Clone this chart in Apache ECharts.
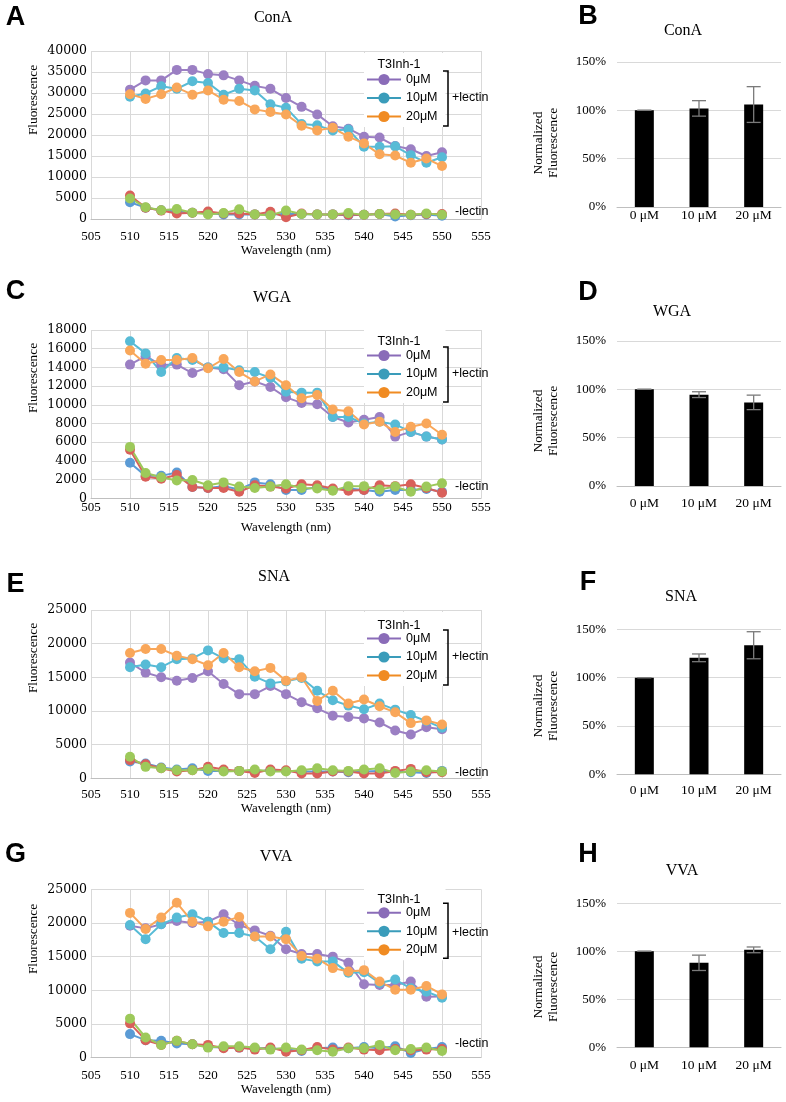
<!DOCTYPE html>
<html>
<head>
<meta charset="utf-8">
<script src="https://cdn.jsdelivr.net/npm/echarts/dist/echarts.min.js"></script>
<style>
html,body{margin:0;padding:0;background:#fff;}
#chart{width:786px;height:1102px;}
</style>
</head>
<body>
<div id="chart"></div>
<script>
// ---------------- DATA ----------------
const wavelengths = [510,512,514,516,518,520,522,524,526,528,530,532,534,536,538,540,542,544,546,548,550];
const xTicks = [505,510,515,520,525,530,535,540,545,550,555];
const doseNames = ['0μM','10μM','20μM'];
const barCategories = ['0 μM','10 μM','20 μM'];

// ConA
const conA_0  = [30800,33000,33000,35500,35500,34500,34200,33000,31700,31000,28800,26700,24900,22100,21500,19600,19400,17400,16600,15000,15900];
const conA_10 = [29100,29900,31600,31000,32800,32400,29600,31000,30600,27300,26500,22600,22300,21100,21300,17200,17200,17300,15200,13400,14700];
const conA_20 = [29700,28600,29700,31300,29600,30600,28400,28100,26100,25500,24900,22200,21100,21700,19600,18000,15400,15100,13400,14400,12600];
const conA_negBlue  = [4000,2700,2100,1800,1500,1400,1100,1100,1100,1100,1200,1200,1100,1100,900,1000,1200,600,900,1100,800];
const conA_negRed   = [5600,2700,2000,1300,1500,1800,1300,1300,1100,1700,400,1300,1100,1100,1000,1000,1200,1300,1000,1200,1200];
const conA_negGreen = [4900,2800,2100,2400,1500,1100,1400,2300,1100,900,2000,1200,1100,1100,1400,1000,1200,1100,1000,1300,1000];

// WGA
const wga_0  = [14300,15200,14250,14300,13400,14000,13800,12100,12500,11900,10800,10200,10050,8700,8100,8400,8700,6600,7100,6600,6300];
const wga_10 = [16800,15500,13500,15000,14800,14000,14000,13700,13500,12900,11400,11300,11300,8700,8700,8000,8200,7900,7100,6600,6300];
const wga_20 = [15800,14400,14800,14800,15000,13900,14900,13500,12500,13250,12100,10700,11050,9500,9300,7900,8200,7100,7650,8000,6800];
const wga_negBlue  = [3800,2400,2400,2750,1200,1100,1300,950,1700,1500,900,900,1200,950,1050,900,700,900,900,1000,700];
const wga_negRed   = [5200,2300,2100,2500,1200,1100,1100,700,1400,1250,1050,1500,1400,1050,800,900,1400,1300,1500,1100,600];
const wga_negGreen = [5500,2700,2250,1900,1950,1400,1700,1250,1100,1250,1500,1100,1050,800,1300,1300,950,1250,700,1250,1600];

// SNA
const sna_0  = [17200,15700,15000,14500,14900,15900,14000,12500,12500,13700,12500,11300,10400,9300,9100,8900,8300,7100,6500,7600,7300];
const sna_10 = [16500,16900,16500,17700,17800,19000,17800,17700,15100,14100,14400,14900,13000,11600,10800,10250,11100,10200,9400,8500,7500];
const sna_20 = [18600,19200,19200,18200,17700,16800,18600,16500,15900,16400,14500,15000,11500,13000,11100,11700,10700,9800,8200,8600,8000];
const sna_negBlue  = [2500,2200,1600,1300,1500,1100,1100,1100,1000,1200,1100,1000,1000,1000,900,1000,1100,1000,900,800,1100];
const sna_negRed   = [2700,2100,1500,1000,1200,1700,1300,1100,800,1300,1200,700,700,1000,1000,700,700,1100,1400,900,900];
const sna_negGreen = [3200,1700,1500,1200,1200,1400,1000,1100,1300,1000,1000,1200,1500,1200,1100,1300,1500,800,1000,1200,1000];

// VVA
const vva_0  = [19600,19200,19800,20300,20000,20200,21300,19700,18900,18100,16100,15400,15400,15000,14100,10900,10800,10800,11300,9050,9100];
const vva_10 = [19700,17600,19800,20800,21300,20200,18500,18500,18000,16100,18700,14700,14300,14300,12600,12700,11100,11600,10300,9800,8900];
const vva_20 = [21500,19100,20800,23000,20200,19500,20200,20900,18000,18000,17600,15100,14700,13300,12800,13000,11300,10100,10100,10650,9400];
const vva_negBlue  = [3500,2600,2500,2100,2000,1600,1500,1500,1400,1400,1200,1000,1400,1500,1400,1600,1400,1700,700,1300,1600];
const vva_negRed   = [5100,2600,1900,2500,2000,1900,1400,1500,1200,1500,900,1100,1600,1200,1500,1200,1100,1300,1100,1200,1300];
const vva_negGreen = [5800,3000,1900,2500,2000,1500,1700,1700,1500,1200,1500,1200,1100,900,1400,1400,1900,1100,1300,1500,1000];

// Normalized bars (%) and error (±%)
const conA_norm = [100,102,106];    const conA_err = [0,8,18.5];
const wga_norm  = [100,94.5,86.5];  const wga_err  = [0,3,7.5];
const sna_norm  = [100,120.5,133.5];const sna_err  = [0,4,14];
const vva_norm  = [100,88,101.5];   const vva_err  = [0,8,3];

// ---------------- STYLE / LAYOUT ----------------
const COL = {purple:'#9b7fc3', cyan:'#57bbd6', orange:'#f9a75a', blue:'#5b9bd5', red:'#d9605a', green:'#9dc95a'};
const LEG = {purple:'#8a6cb8', cyan:'#3a9cba', orange:'#f08b22'};
const SERIF = '"Liberation Serif","Times New Roman",serif';
const SERIF_Y = '"DejaVu Serif",serif';
const SANS = '"Liberation Sans",Arial,sans-serif';

const linePanels = [
  {title:'ConA', letter:'A', pos:[51,168], ymax:40000, yint:5000, letterY:18, titleY:18, titleX:273, xMargin:11, xNameGap:22, yNameY:100, leg:[14,29,20,75,47,161],
   plus:[conA_0,conA_10,conA_20], minus:[conA_negBlue,conA_negRed,conA_negGreen]},
  {title:'WGA', letter:'C', pos:[330,168.3], ymax:18000, yint:2000, letterY:292, titleY:298, titleX:272, xMargin:3, xNameGap:23, yNameY:378, leg:[12,26,17,72,44,157],
   plus:[wga_0,wga_10,wga_20], minus:[wga_negBlue,wga_negRed,wga_negGreen]},
  {title:'SNA', letter:'E', pos:[610,168.3], ymax:25000, yint:5000, letterY:585, titleY:577, titleX:274, xMargin:10, xNameGap:23, yNameY:658, leg:[16,29,20,75,47,163],
   plus:[sna_0,sna_10,sna_20], minus:[sna_negBlue,sna_negRed,sna_negGreen]},
  {title:'VVA', letter:'G', pos:[889.3,168.4], ymax:25000, yint:5000, letterY:855, titleY:857, titleX:276, xMargin:11, xNameGap:25, yNameY:939, leg:[10,24,14,69,43,154],
   plus:[vva_0,vva_10,vva_20], minus:[vva_negBlue,vva_negRed,vva_negGreen]}
];
const barPanels = [
  {title:'ConA', letter:'B', pos:[62,145], vals:conA_norm, errs:conA_err, letterY:16.5, titleY:31, titleX:683, xMargin:1, yNameY:143},
  {title:'WGA', letter:'D', pos:[341,145], vals:wga_norm, errs:wga_err, letterY:293, titleY:312, titleX:672, xMargin:10, yNameY:421},
  {title:'SNA', letter:'F', pos:[629.3,145], vals:sna_norm, errs:sna_err, letterY:583, titleY:597, titleX:681, xMargin:9, yNameY:706},
  {title:'VVA', letter:'H', pos:[903.3,144], vals:vva_norm, errs:vva_err, letterY:855, titleY:871, titleX:682, xMargin:11, yNameY:987}
];

const LINE_LEFT = 91, LINE_W = 390;
const BAR_LEFT = 617, BAR_W = 164;

function txt(x, y, text, font, opts) {
  opts = opts || {};
  return Object.assign({
    type:'text', x:x, y:y, z:100,
    style:{text:text, font:font, fill:'#000',
      align:opts.align||'center', textAlign:opts.align||'center',
      verticalAlign:'middle', textVerticalAlign:'middle', lineHeight:opts.lineHeight}
  }, opts.rotation ? {rotation:opts.rotation} : {});
}

const grids=[], xAxes=[], yAxes=[], series=[], legends=[], graphics=[];

linePanels.forEach(p => {
  const gi = grids.length;
  const top = p.pos[0], h = p.pos[1];
  grids.push({left:LINE_LEFT, top:top, width:LINE_W, height:h, containLabel:false, outerBoundsMode:'none'});
  xAxes.push({gridIndex:gi, type:'value', min:xTicks[0], max:xTicks[xTicks.length-1], interval:5,
    axisLine:{show:true, lineStyle:{color:'#bfbfbf', width:1}}, axisTick:{show:false},
    splitLine:{show:true, lineStyle:{color:'#d9d9d9', width:1}},
    axisLabel:{color:'#000', fontFamily:SERIF, fontSize:13, margin:p.xMargin, formatter:v => String(v)},
    name:'Wavelength (nm)', nameLocation:'middle', nameGap:p.xNameGap,
    nameTextStyle:{color:'#000', fontFamily:SERIF, fontSize:13}});
  yAxes.push({gridIndex:gi, type:'value', min:0, max:p.ymax, interval:p.yint,
    axisLine:{show:false}, axisTick:{show:false},
    splitLine:{show:true, lineStyle:{color:'#d9d9d9', width:1}},
    axisLabel:{color:'#000', fontFamily:SERIF_Y, fontSize:12.5, margin:4, formatter:v => String(v)}});
  const mk = (arr) => wavelengths.map((w,k) => [w, arr[k]]);
  const negCols = [COL.blue, COL.red, COL.green];
  p.minus.forEach((arr, k) => {
    series.push({type:'line', name:p.title+' -lectin '+k, xAxisIndex:gi, yAxisIndex:gi, data:mk(arr),
      symbol:'circle', symbolSize:10, showSymbol:true, lineStyle:{color:negCols[k], width:2},
      itemStyle:{color:negCols[k]}, z:2, silent:true});
  });
  const posCols = [COL.purple, COL.cyan, COL.orange];
  p.plus.forEach((arr, k) => {
    series.push({type:'line', name:doseNames[k], xAxisIndex:gi, yAxisIndex:gi, data:mk(arr),
      symbol:'circle', symbolSize:10, showSymbol:true, lineStyle:{color:posCols[k], width:2},
      itemStyle:{color:posCols[k]}, z:3, silent:true});
  });
  const L = p.leg; // [headerDy, firstItemDy, bracketTopDy, bracketBotDy, plusDy, minusDy]
  const legCols = [LEG.purple, LEG.cyan, LEG.orange];
  legends.push({
    orient:'vertical', left:364, top:top + L[1] - 7 - 20,
    padding:[20,8,4,2], backgroundColor:'#ffffff',
    itemWidth:34, itemHeight:14, itemGap:5.5, selectedMode:false,
    textStyle:{color:'#000', fontFamily:SANS, fontSize:12.5},
    data:doseNames.map((n,k) => ({name:n,
      itemStyle:{color:legCols[k]}, lineStyle:{color:legCols[k], width:2}}))
  });
  graphics.push(txt(399, top + L[0], 'T3Inh-1', '12.5px '+SANS));
  const bx = 448, bt = top + L[2], bb = top + L[3];
  graphics.push({type:'polyline', z:100, shape:{points:[[443,bt],[bx,bt],[bx,bb],[443,bb]]},
    style:{stroke:'#000', lineWidth:1.5, fill:null}});
  graphics.push(txt(452, top + L[4], '+lectin', '12.5px '+SANS, {align:'left'}));
  graphics.push(txt(455, top + L[5], '-lectin', '12.5px '+SANS, {align:'left'}));
  graphics.push(txt(p.titleX, p.titleY, p.title, '16px '+SERIF));
  graphics.push(txt(15.5, p.letterY, p.letter, 'bold 27px '+SANS));
  graphics.push(txt(34, p.yNameY, 'Fluorescence', '13.3px '+SERIF, {rotation:Math.PI/2}));
});

barPanels.forEach(p => {
  const gi = grids.length;
  const top = p.pos[0], h = p.pos[1];
  grids.push({left:BAR_LEFT, top:top, width:BAR_W, height:h, containLabel:false, outerBoundsMode:'none'});
  xAxes.push({gridIndex:gi, type:'category', data:barCategories, boundaryGap:true,
    axisLine:{show:true, lineStyle:{color:'#bfbfbf', width:1}}, axisTick:{show:false},
    splitLine:{show:false},
    axisLabel:{color:'#000', fontFamily:SERIF, fontSize:13.5, margin:p.xMargin, interval:0}});
  yAxes.push({gridIndex:gi, type:'value', min:0, max:150, interval:50,
    axisLine:{show:false}, axisTick:{show:false},
    splitLine:{show:true, lineStyle:{color:'#d9d9d9', width:1}},
    axisLabel:{color:'#000', fontFamily:SERIF, fontSize:13, margin:11, formatter:'{value}%'}});
  series.push({type:'bar', name:p.title+' normalized', xAxisIndex:gi, yAxisIndex:gi,
    data:p.vals, barWidth:19, itemStyle:{color:'#000'}, silent:true, z:2});
  series.push({type:'custom', name:p.title+' error', xAxisIndex:gi, yAxisIndex:gi, z:3, silent:true,
    data:p.vals.map((v,k) => [k, v, p.errs[k]]),
    encode:{x:0, y:1},
    renderItem:(params, api) => {
      const i = api.value(0), m = api.value(1), e = api.value(2);
      const hi = api.coord([i, m + e]), lo = api.coord([i, m - e]);
      const hw = 7;
      const st = {stroke:'#7a7a7a', lineWidth:1.3};
      return {type:'group', children:[
        {type:'line', shape:{x1:hi[0], y1:hi[1], x2:lo[0], y2:lo[1]}, style:st},
        {type:'line', shape:{x1:hi[0]-hw, y1:hi[1], x2:hi[0]+hw, y2:hi[1]}, style:st},
        {type:'line', shape:{x1:lo[0]-hw, y1:lo[1], x2:lo[0]+hw, y2:lo[1]}, style:st}
      ]};
    }});
  graphics.push(txt(p.titleX, p.titleY, p.title, '16px '+SERIF));
  graphics.push(txt(588, p.letterY, p.letter, 'bold 27px '+SANS));
  graphics.push(txt(546, p.yNameY, 'Normalized\nFluorescence', '13.3px '+SERIF, {rotation:Math.PI/2, lineHeight:15}));
});

const chart = echarts.init(document.getElementById('chart'), null, {renderer:'canvas', width:786, height:1102});
chart.setOption({
  backgroundColor:'#ffffff',
  animation:false,
  grid:grids, xAxis:xAxes, yAxis:yAxes, series:series, legend:legends,
  graphic:{elements:graphics}
});
</script>
</body>
</html>
